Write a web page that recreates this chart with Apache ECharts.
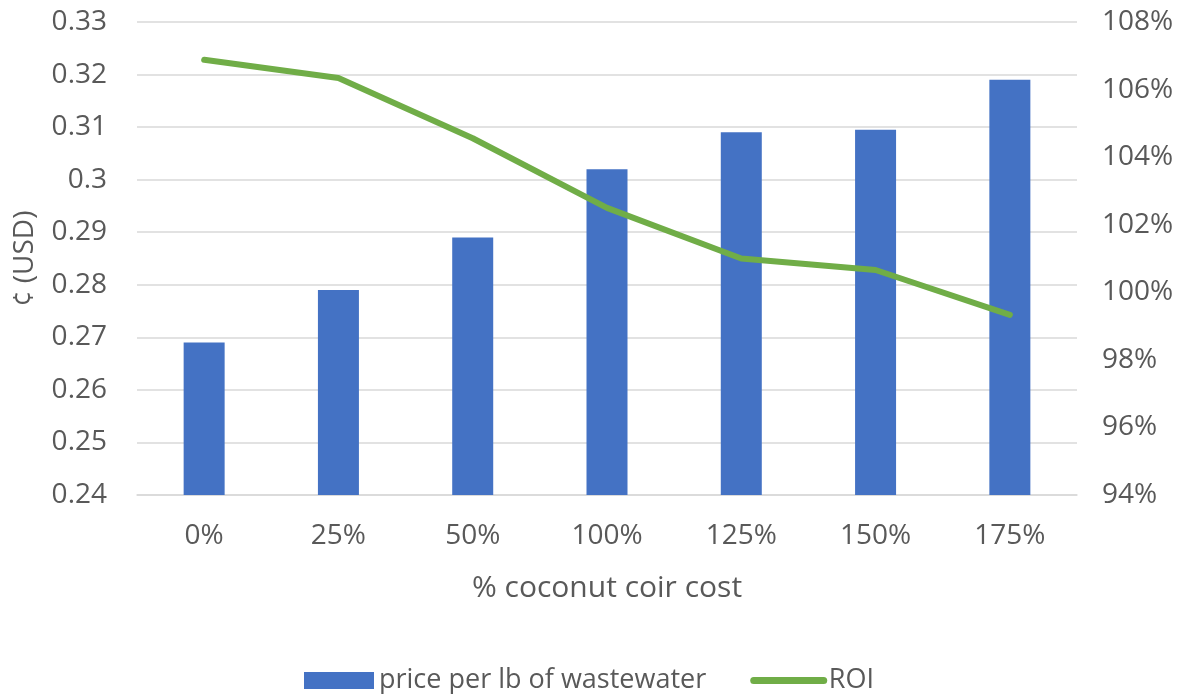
<!DOCTYPE html>
<html>
<head>
<meta charset="utf-8">
<script src="https://cdn.jsdelivr.net/npm/echarts@6/dist/echarts.min.js"></script>
<style>
  html, body { margin: 0; padding: 0; background: #ffffff; }
  #chart { width: 1183px; height: 694px; }
</style>
</head>
<body>
<div id="chart"></div>
<script>
// Coconut coir cost scenarios
const categories = ['0%', '25%', '50%', '100%', '125%', '150%', '175%'];
// Price per lb of wastewater (¢, USD)
const priceValues = [0.269, 0.279, 0.289, 0.302, 0.309, 0.3095, 0.319];
// Return on investment (%)
const roiValues = [106.88, 106.34, 104.56, 102.5, 101.0, 100.66, 99.33];

const FONT = 'Open Sans';
const TEXT = '#595959';
const GRID = '#d9d9d9';

const chart = echarts.init(document.getElementById('chart'), null, { renderer: 'canvas' });
chart.setOption({
  animation: false,
  backgroundColor: '#ffffff',
  textStyle: { fontFamily: FONT, color: TEXT },
  grid: { left: 137, right: 106, top: 22, bottom: 199 },
  legend: {
    top: 662,
    left: 299,
    itemWidth: 70,
    itemHeight: 17,
    itemGap: 44,
    textStyle: { fontFamily: FONT, fontSize: 27, color: TEXT },
    data: [
      { name: 'price per lb of wastewater', icon: 'rect' },
      { name: 'ROI', itemStyle: { opacity: 0 } }
    ],
    lineStyle: { width: 7, cap: 'round' }
  },
  xAxis: {
    type: 'category',
    data: categories,
    name: '% coconut coir cost',
    nameLocation: 'middle',
    nameGap: 78,
    nameTextStyle: { fontFamily: FONT, fontSize: 30, color: TEXT },
    axisLine: { show: true, lineStyle: { color: GRID, width: 1.5 } },
    axisTick: { show: false },
    axisLabel: { fontFamily: FONT, fontSize: 28, color: TEXT, margin: 27 }
  },
  yAxis: [
    {
      type: 'value',
      min: 0.24,
      max: 0.33,
      interval: 0.01,
      name: '¢ (USD)',
      nameLocation: 'middle',
      nameGap: 98,
      nameRotate: 90,
      nameTextStyle: { fontFamily: FONT, fontSize: 28, color: TEXT },
      axisLine: { show: false },
      axisTick: { show: false },
      axisLabel: {
        fontFamily: FONT, fontSize: 28, color: TEXT, margin: 30,
        formatter: v => String(parseFloat(v.toFixed(2)))
      },
      splitLine: { show: true, lineStyle: { color: GRID, width: 1.5 } }
    },
    {
      type: 'value',
      min: 94,
      max: 108,
      interval: 2,
      position: 'right',
      axisLine: { show: false },
      axisTick: { show: false },
      axisLabel: {
        fontFamily: FONT, fontSize: 28, color: TEXT, margin: 25,
        formatter: v => v + '%'
      },
      splitLine: { show: false }
    }
  ],
  series: [
    {
      name: 'price per lb of wastewater',
      type: 'bar',
      yAxisIndex: 0,
      data: priceValues,
      barWidth: 41,
      itemStyle: { color: '#4472c4' }
    },
    {
      name: 'ROI',
      type: 'line',
      yAxisIndex: 1,
      data: roiValues,
      symbol: 'none',
      lineStyle: { color: '#70ad47', width: 6, cap: 'round', join: 'round' },
      itemStyle: { color: '#70ad47' }
    }
  ]
});
</script>
</body>
</html>
